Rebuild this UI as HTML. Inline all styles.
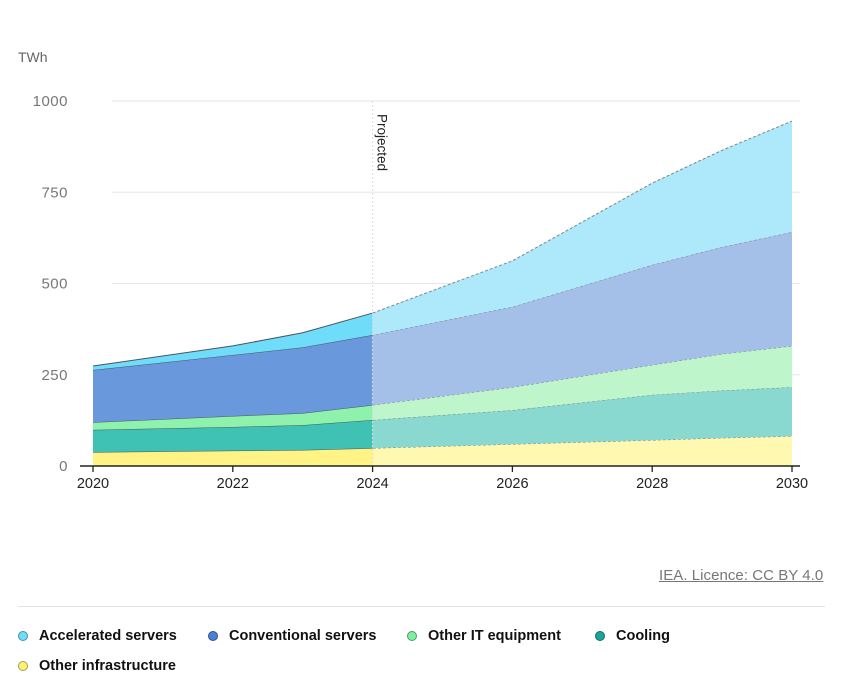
<!DOCTYPE html>
<html><head><meta charset="utf-8"><style>
body{margin:0;background:#fff;font-family:"Liberation Sans",sans-serif;}
#wrap{position:relative;width:843px;height:689px;overflow:hidden}
.leg{position:absolute;font-size:14.5px;font-weight:bold;color:#111;display:flex;align-items:center}
.dot{width:10px;height:10px;border-radius:50%;margin-right:11px;border:1px solid rgba(0,0,0,.35);box-sizing:border-box}
</style></head><body><div id="wrap">
<svg id="chart" width="843" height="600" style="position:absolute;left:0;top:0"></svg>
<div style="position:absolute;left:659px;top:567px;font-size:15px;color:#777;text-decoration:underline;letter-spacing:0.05px">IEA. Licence: CC BY 4.0</div>
<div style="position:absolute;left:18px;top:606px;width:807px;height:1px;background:#e3e3e3"></div>
<div class="leg" style="left:18px;top:628px"><span class="dot" style="background:#6fdcfa"></span>Accelerated servers</div>
<div class="leg" style="left:208px;top:628px"><span class="dot" style="background:#4a7fd6"></span>Conventional servers</div>
<div class="leg" style="left:407px;top:628px"><span class="dot" style="background:#7eef9e"></span>Other IT equipment</div>
<div class="leg" style="left:595px;top:628px"><span class="dot" style="background:#1aa597"></span>Cooling</div>
<div class="leg" style="left:18px;top:658px"><span class="dot" style="background:#fff176"></span>Other infrastructure</div>
</div>
<script>
const years=[2020,2022,2023,2024,2026,2028,2029,2030];
const infra=[38,42,44,49,60,71,77,82];
const cooling=[61,65,68,77,93,124,130,134];
const otherIT=[21,30,33,41,63,82,100,113];
const conventional=[143,167,180,192,220,274,293,312];
const accelerated=[11,25,40,60,126,224,265,304];
const yTicks=[0,250,500,750,1000];
const xTicks=[2020,2022,2024,2026,2028,2030];
const projStart=2024;

const NS="http://www.w3.org/2000/svg",svg=document.getElementById('chart');
const X=v=>93+(v-2020)*69.9, Y=v=>466-v*0.365;
function mk(t,a,p){const e=document.createElementNS(NS,t);for(const k in a)e.setAttribute(k,a[k]);(p||svg).appendChild(e);return e;}
const defs=mk('defs',{});
const c1=mk('clipPath',{id:'hist'},defs);mk('rect',{x:0,y:0,width:X(projStart),height:600},c1);
const c2=mk('clipPath',{id:'proj'},defs);mk('rect',{x:X(projStart),y:0,width:843,height:600},c2);
yTicks.forEach(t=>{
 const l=mk('line',{x1:112,x2:800,y1:Y(t),y2:Y(t),stroke:'#e6e6e6'});
 
 const tx=mk('text',{x:68,y:Y(t)+5,'text-anchor':'end','font-size':15,fill:'#777','letter-spacing':0.5});tx.textContent=t;
 
});
const yt=mk('text',{x:18,y:62,'font-size':14,fill:'#666'});yt.textContent='TWh';

const layers=[
 ['other-infrastructure',infra,'#fef384','#fff8b0'],
 ['cooling',cooling,'#3fc1b3','#8ad9d0'],
 ['other-it-equipment',otherIT,'#8ef2ac','#bff5cb'],
 ['conventional-servers',conventional,'#6a98dc','#a4bfe8'],
 ['accelerated-servers',accelerated,'#6fdcfa','#aee9fb']];
let base=years.map(()=>0);
layers.forEach(([name,vals,ch,cp])=>{
 const top=base.map((b,i)=>b+vals[i]);
 let d='M'+years.map((y,i)=>X(y)+','+Y(top[i])).join('L');
 for(let i=years.length-1;i>=0;i--)d+='L'+X(years[i])+','+Y(base[i]);d+='Z';
 const a=mk('path',{d,fill:ch,'clip-path':'url(#hist)'});
 
 const b=mk('path',{d,fill:cp,'clip-path':'url(#proj)'});
 
 const ld='M'+years.map((y,i)=>X(y)+','+Y(top[i])).join('L');
 const l1=mk('path',{d:ld,fill:'none',stroke:'#4a5560','stroke-width':1,'clip-path':'url(#hist)'});
 
 const l2=mk('path',{d:ld,fill:'none',stroke:'#7a8590','stroke-width':1,'stroke-dasharray':'3,2','clip-path':'url(#proj)'});
 
 base=top;
});
const pl=mk('line',{x1:X(projStart),x2:X(projStart),y1:101,y2:466,stroke:'#ddd','stroke-dasharray':'2,2'});

const pt=mk('text',{x:0,y:0,'font-size':13.5,fill:'#222',transform:`translate(${X(projStart)+5},114) rotate(90)`});pt.textContent='Projected';

const ax=mk('line',{x1:80,x2:800,y1:466,y2:466,stroke:'#222','stroke-width':1.5});

xTicks.forEach(t=>{
 const l=mk('line',{x1:X(t),x2:X(t),y1:466,y2:472,stroke:'#222','stroke-width':1.3});
 
 const tx=mk('text',{x:X(t),y:488,'text-anchor':'middle','font-size':14.5,fill:'#222'});tx.textContent=t;
 
});
</script></body></html>
